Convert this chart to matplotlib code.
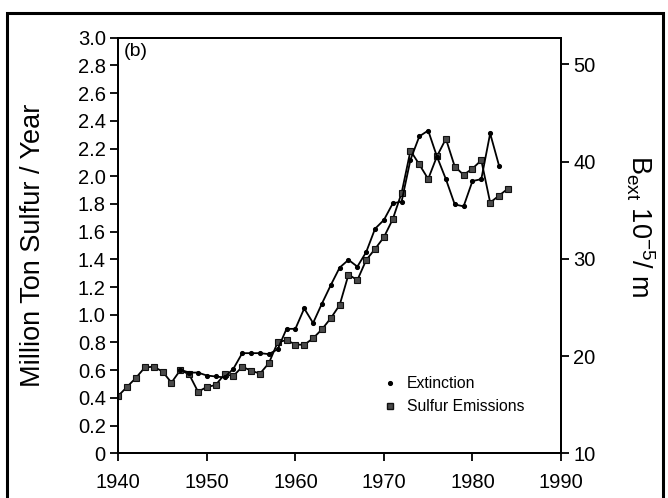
import matplotlib
matplotlib.use("Agg")
import matplotlib.pyplot as plt
from matplotlib.lines import Line2D
from matplotlib.patches import Rectangle
from matplotlib.ticker import FuncFormatter

plt.rcParams['font.family'] = ['Liberation Sans', 'DejaVu Sans']
plt.rcParams['mathtext.fontset'] = 'custom'
plt.rcParams['mathtext.rm'] = 'Liberation Sans'
plt.rcParams['mathtext.it'] = 'Liberation Sans'

# Sulfur emissions (million ton sulfur / year), left axis
sulfur_years = list(range(1940, 1985))
sulfur_values = [0.415, 0.48, 0.545, 0.62, 0.625, 0.59, 0.51, 0.60, 0.57, 0.445,
                 0.478, 0.493, 0.57, 0.558, 0.625, 0.596, 0.575, 0.65, 0.80, 0.818,
                 0.785, 0.783, 0.83, 0.895, 0.975, 1.07, 1.29, 1.25, 1.395, 1.475,
                 1.56, 1.69, 1.88, 2.185, 2.085, 1.98, 2.145, 2.27, 2.07, 2.01,
                 2.055, 2.115, 1.81, 1.86, 1.91]

# Extinction B_ext (10^-5 / m), right axis
ext_years = list(range(1947, 1984))
ext_values = [18.6, 18.3, 18.3, 18.0, 17.9, 17.8, 18.7, 20.3, 20.3, 20.3,
              20.2, 20.7, 22.8, 22.8, 24.9, 23.4, 25.4, 27.3, 29.1, 29.9,
              29.2, 30.7, 33.1, 34.0, 35.7, 35.9, 40.2, 42.6, 43.2, 40.5,
              38.2, 35.6, 35.4, 38.0, 38.2, 42.9, 39.6]

x_ticks = [1940, 1950, 1960, 1970, 1980, 1990]
left_ticks = [round(0.2 * i, 1) for i in range(16)]
right_ticks = [10, 20, 30, 40, 50]

fig = plt.figure(figsize=(6.68, 4.98), dpi=100)
ax = fig.add_axes([0.1771, 0.0898, 0.8398 - 0.1771, 0.9243 - 0.0898])
ax2 = ax.twinx()

lw = 1.3
sq_size = 4.0
dot_size = 2.7
s_line, = ax.plot(sulfur_years, sulfur_values, color='black', lw=lw,
                  marker='s', markersize=sq_size, markerfacecolor='#4a4a4a',
                  markeredgecolor='#111111', markeredgewidth=0.8)
e_line, = ax2.plot(ext_years, ext_values, color='black', lw=lw,
                   marker='o', markersize=dot_size, markerfacecolor='black',
                   markeredgecolor='black')

ax.set_xlim(1940, 1990)
ax.set_ylim(0, 3.0)
ax2.set_ylim(10, 52.75)
ax.set_xticks(x_ticks)
ax.set_yticks(left_ticks)
ax.yaxis.set_major_formatter(FuncFormatter(lambda v, p: '0' if abs(v) < 1e-9 else f'{v:.1f}'))
ax2.set_yticks(right_ticks)

for a in (ax, ax2):
    for sp in a.spines.values():
        sp.set_linewidth(1.4)
    a.tick_params(direction='out', length=6, width=1.3, labelsize=14.5, pad=3)
ax.tick_params(axis='x', pad=8)

ax.set_ylabel('Million Ton Sulfur / Year', fontsize=19.5, va='center')
ax.yaxis.set_label_coords(-0.193, 0.5)
ax2.set_ylabel(r'B$_{\rm ext}$ 10$^{-5}$/ m', fontsize=19.5, rotation=270,
               va='center')
ax2.yaxis.set_label_coords(1.178, 0.545)

ax.text(0.012, 0.988, '(b)', transform=ax.transAxes, fontsize=14,
        va='top', ha='left')

handles = [Line2D([], [], ls='none', marker='o', markersize=dot_size, color='black'),
           Line2D([], [], ls='none', marker='s', markersize=sq_size,
                  markerfacecolor='#4a4a4a', markeredgecolor='#111111')]
ax2.legend(handles, ['Extinction', 'Sulfur Emissions'], frameon=False,
           fontsize=11.3, loc='center left', bbox_to_anchor=(0.567, 0.14),
           handlelength=0.9, handletextpad=0.6, labelspacing=0.5)

fig.patches.append(Rectangle((0.0105, -0.02), 0.982, 0.9945, transform=fig.transFigure,
                             fill=False, edgecolor='black', linewidth=2.2))

fig.savefig('out.png', dpi=100)
